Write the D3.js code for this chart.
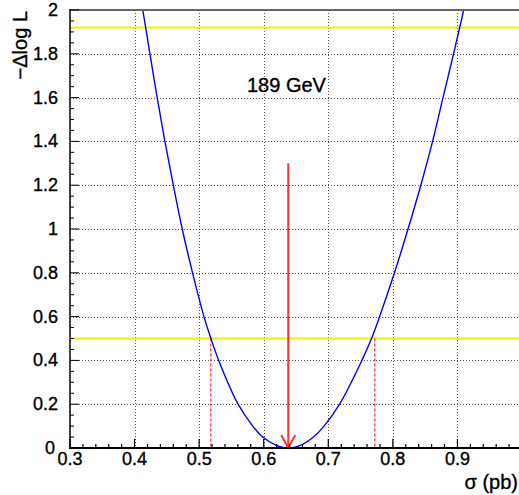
<!DOCTYPE html>
<html>
<head>
<meta charset="utf-8">
<script src="https://cdn.jsdelivr.net/npm/d3@7"></script>
<style>
  html, body { margin: 0; padding: 0; background: #fff; }
  svg { display: block; }
  text { font-family: "Liberation Sans", Arial, Helvetica, sans-serif; }
</style>
</head>
<body>
<svg id="chart" width="519" height="495"></svg>
<script>
// ---- data ----
const sigma = [0.4127, 0.4172, 0.4238, 0.4350, 0.4470, 0.4600, 0.4738, 0.4898, 0.5075, 0.5183, 0.5303, 0.5603, 0.5830, 0.5985, 0.6195, 0.638,
               0.657, 0.677, 0.6935, 0.7175, 0.752, 0.767, 0.7795, 0.8025, 0.8235, 0.8433, 0.8615, 0.8777, 0.8940, 0.9035, 0.9097];
const dlogL = [2.00, 1.92, 1.80, 1.60, 1.40, 1.20, 1.00, 0.80, 0.60, 0.50, 0.40, 0.20, 0.10, 0.05, 0.012, 0.000,
               0.012, 0.050, 0.10, 0.20, 0.40, 0.50, 0.60, 0.80, 1.00, 1.20, 1.40, 1.60, 1.80, 1.92, 2.00];
const levels = [0.5, 1.92];            // yellow horizontal lines
const intervalEdges = [0.518, 0.772];  // red dashed lines (at level 0.5)
const bestSigma = 0.638;               // arrow position
const arrowTop = 1.3;
const xTicks = [0.3, 0.4, 0.5, 0.6, 0.7, 0.8, 0.9];
const yTicks = [0, 0.2, 0.4, 0.6, 0.8, 1, 1.2, 1.4, 1.6, 1.8, 2];
const label = "189 GeV";
const xTitle = "σ (pb)";
const yTitle = "−Δlog L";

// ---- layout ----
const svg = d3.select("#chart");
const L = 70, R = 522, T = 10, B = 448;
const x = d3.scaleLinear().domain([0.3, 1.0]).range([L, R]);
const y = d3.scaleLinear().domain([0, 2]).range([B, T]);

svg.append("defs").append("clipPath").attr("id", "clip")
  .append("rect").attr("x", L).attr("y", T).attr("width", R - L).attr("height", B - T);

// grid
const grid = svg.append("g").attr("stroke", "#555").attr("stroke-width", 1).attr("stroke-dasharray", "1,2");
grid.selectAll("line.gx").data(xTicks.filter(d => d > 0.3)).enter().append("line")
  .attr("x1", d => Math.round(x(d)) + 0.5).attr("x2", d => Math.round(x(d)) + 0.5)
  .attr("y1", T).attr("y2", B);
grid.selectAll("line.gy").data(yTicks.filter(d => d > 0)).enter().append("line")
  .attr("x1", L).attr("x2", R)
  .attr("y1", d => Math.round(y(d)) + 0.5).attr("y2", d => Math.round(y(d)) + 0.5);

// yellow level lines
svg.selectAll("line.lvl").data(levels).enter().append("line")
  .attr("x1", L).attr("x2", R)
  .attr("y1", d => y(d)).attr("y2", d => y(d))
  .attr("stroke", "#f2f200").attr("stroke-width", 2);

// dashed interval lines
svg.selectAll("line.edge").data(intervalEdges).enter().append("line")
  .attr("x1", d => x(d)).attr("x2", d => x(d))
  .attr("y1", y(levels[0])).attr("y2", y(0))
  .attr("stroke", "#ff5050").attr("stroke-width", 1.5).attr("stroke-dasharray", "3,2");

// curve
const pts = sigma.map((s, i) => [s, dlogL[i]]);
svg.append("path").datum(pts)
  .attr("clip-path", "url(#clip)")
  .attr("fill", "none").attr("stroke", "#0000ff").attr("stroke-width", 1.4)
  .attr("d", d3.line().x(d => x(d[0])).y(d => y(d[1])).curve(d3.curveCatmullRom.alpha(0.5)));

// arrow
const ax = x(bestSigma);
const arrow = svg.append("g").attr("stroke", "#ff3030").attr("stroke-width", 2).attr("fill", "none");
arrow.append("line").attr("x1", ax).attr("x2", ax).attr("y1", y(arrowTop)).attr("y2", y(0));
arrow.append("path").attr("d", `M${ax - 7},${y(0) - 13}L${ax},${y(0)}L${ax + 7},${y(0) - 13}`);

// frame
svg.append("line").attr("x1", L).attr("x2", R).attr("y1", T).attr("y2", T)
  .attr("stroke", "#666").attr("stroke-width", 2);
svg.append("line").attr("x1", L).attr("x2", L).attr("y1", T - 1).attr("y2", B)
  .attr("stroke", "#000").attr("stroke-width", 1.5);
svg.append("line").attr("x1", L - 1).attr("x2", R).attr("y1", B).attr("y2", B)
  .attr("stroke", "#000").attr("stroke-width", 2);

// ticks
const xMinor = d3.range(0.3, 1.0001, 0.02);
svg.append("g").selectAll("line").data(xMinor).enter().append("line")
  .attr("x1", d => x(d)).attr("x2", d => x(d))
  .attr("y1", B).attr("y2", (d, i) => B - (i % 5 === 0 ? 9 : 4))
  .attr("stroke", "#000").attr("stroke-width", 1.2);
const yMinor = d3.range(0, 2.0001, 0.05);
svg.append("g").selectAll("line").data(yMinor).enter().append("line")
  .attr("y1", d => y(d)).attr("y2", d => y(d))
  .attr("x1", L).attr("x2", (d, i) => L + (i % 4 === 0 ? 9 : 4))
  .attr("stroke", "#000").attr("stroke-width", 1);

// text styling helper (slightly heavier strokes as in the reference)
const heavy = sel => sel.attr("fill", "#000").attr("stroke", "#000").attr("stroke-width", 0.35);

// tick labels
svg.append("g").selectAll("text").data(xTicks).enter().append("text")
  .attr("x", d => x(d)).attr("y", 465)
  .attr("text-anchor", "middle").attr("font-size", 18)
  .call(heavy)
  .text(d => d3.format(".1f")(d));
svg.append("g").selectAll("text").data(yTicks).enter().append("text")
  .attr("x", d => d === 0 ? 55 : 58).attr("y", d => d === 0 ? 454 : y(d) + 6)
  .attr("text-anchor", "end").attr("font-size", 18)
  .call(heavy)
  .text(d => d === 0 ? "0" : (Number.isInteger(d) ? String(d) : d3.format(".1f")(d)));

// titles
svg.append("text").attr("x", 518).attr("y", 489).attr("text-anchor", "end")
  .attr("font-size", 20).call(heavy).text(xTitle);
svg.append("text").attr("transform", "translate(27,11) rotate(-90)")
  .attr("text-anchor", "end").attr("font-size", 20).call(heavy).text(yTitle);

// annotation
svg.append("text").attr("x", 247).attr("y", 92).attr("font-size", 20).call(heavy).text(label);
</script>
</body>
</html>
